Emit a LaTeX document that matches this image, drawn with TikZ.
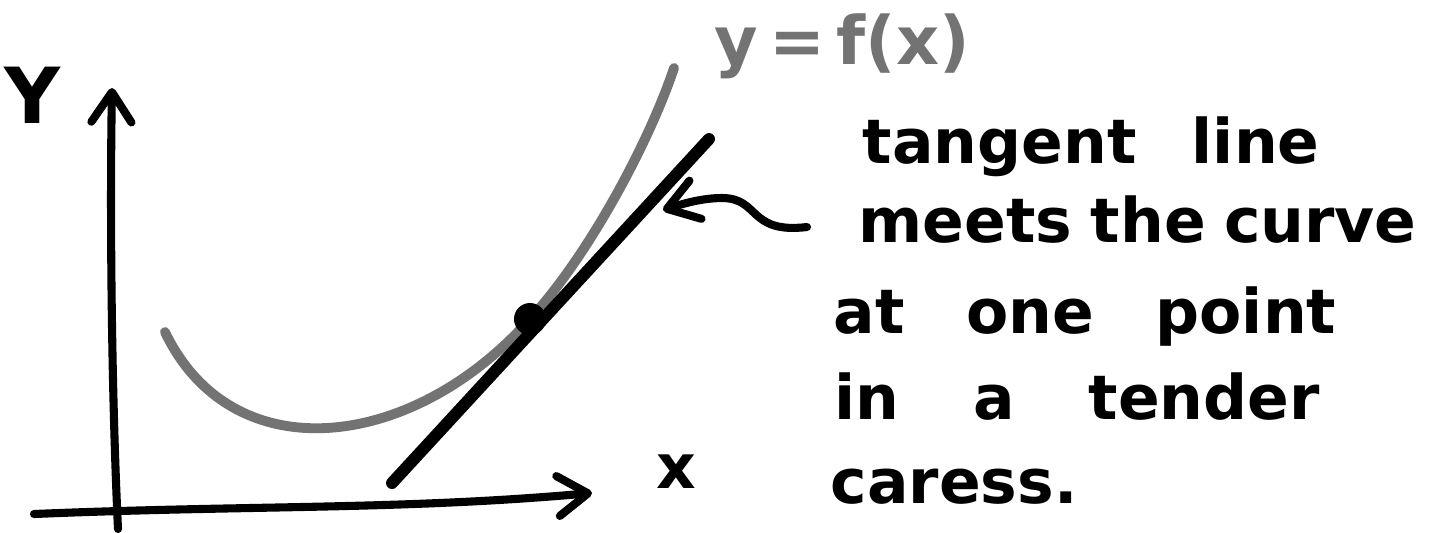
\documentclass[tikz,border=0pt]{standalone}
\usepackage{fontspec}
\setmainfont{DejaVu Sans}
\usetikzlibrary{arrows.meta}
\newcommand{\handfont}{\bfseries\fontsize{17.5}{21}\selectfont}
\begin{document}
\begin{tikzpicture}[x=0.01cm, y=-0.01cm,
    pen/.style={line width=2.3pt, line cap=round, line join=round},
    barb/.style={-{Straight Barb[length=3mm, width=4mm, round]}},
    note/.style={anchor=base west, inner sep=0pt, font=\handfont\spaceskip #1\relax},
    note/.default=1em]
  \useasboundingbox (0,0) rectangle (1430,532);

  % axes
  \draw[pen, barb] (118,529) .. controls (111,380) and (110,200) .. (112,88);
  \draw[pen, barb] (34,514) .. controls (250,505) and (400,510) .. (592,493);
  \node[font=\bfseries\fontsize{22}{26}\selectfont] (ylab) at (33,95) {Y};
  \node[font=\handfont] (xlab) at (676,472) {x};

  % the curve and its tangent
  \draw[pen, black!55, line width=2.8pt] (165,332) .. controls (232,472) and (412,452) .. (530,319)
    .. controls (590,254) and (650,140) .. (674,68);
  \node[anchor=base west, inner sep=0pt, text=black!55,
    font=\bfseries\fontsize{19}{23}\selectfont] (curvelab) at (714,64) {y\,=\,f(x)};
  \draw[pen, line width=3.4pt] (392,483) -- (709,139);
  \coordinate (touch) at (530,319);
  \fill (touch) circle[radius=0.16cm];

  % the note
  \node[note=0.9em] (line1) at (862,163) {tangent line};
  \node[note=0.3em] (line2) at (858,242) {meets the curve};
  \node[note] (line3) at (833,333) {at one point};
  \node[note=1.2em] (line4) at (834,419) {in a tender};
  \node[note] (line5) at (830,503) {caress.};

  \coordinate (sqend) at (807,227);
  \coordinate (sqtip) at (663,210);
  \draw[pen, barb] (sqend) .. controls (748,234) and (760,198) .. (722,198)
    .. controls (702,198) and (682,204) .. (sqtip);
\end{tikzpicture}
\end{document}
